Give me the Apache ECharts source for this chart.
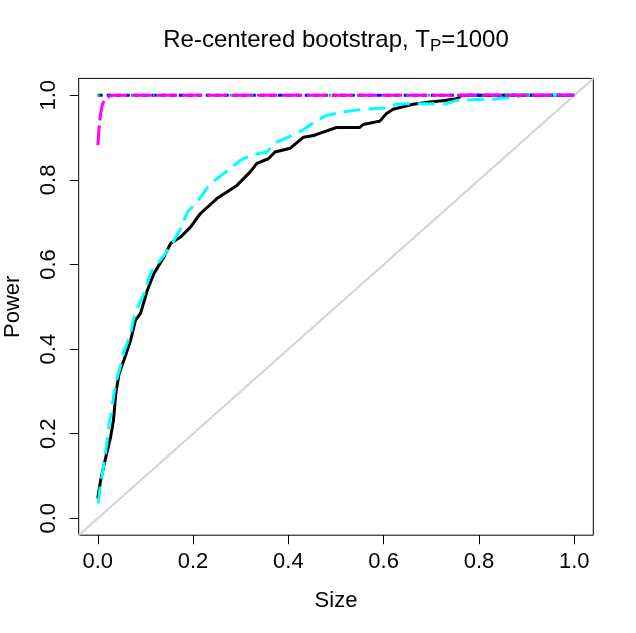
<!DOCTYPE html>
<html>
<head>
<meta charset="utf-8">
<script src="https://cdn.jsdelivr.net/npm/echarts@6/dist/echarts.min.js"></script>
<style>
html,body{margin:0;padding:0;background:#fff;}
#chart{width:636px;height:633px;}
</style>
</head>
<body>
<div id="chart"></div>
<script>
var tickValues = [0, 0.2, 0.4, 0.6, 0.8, 1.0];

var blackX = [0.000,0.006,0.017,0.027,0.033,0.038,0.045,0.055,0.069,0.079,0.090,0.104,0.118,0.139,0.153,0.174,0.195,0.215,0.250,0.292,0.320,0.334,0.358,0.372,0.404,0.432,0.453,0.473,0.501,0.550,0.557,0.592,0.606,0.620,0.648,0.662,0.697,0.728,0.753,0.759,0.764,1.000];
var blackY = [0.047,0.090,0.145,0.192,0.232,0.296,0.343,0.374,0.421,0.468,0.485,0.539,0.579,0.618,0.650,0.665,0.689,0.720,0.756,0.787,0.819,0.839,0.850,0.866,0.875,0.901,0.905,0.913,0.924,0.924,0.931,0.939,0.957,0.967,0.975,0.979,0.984,0.988,0.992,0.996,1.000,1.000];

var cyanX = [0.001,0.006,0.012,0.019,0.024,0.029,0.034,0.041,0.050,0.055,0.069,0.076,0.086,0.097,0.107,0.114,0.142,0.156,0.174,0.188,0.209,0.233,0.250,0.278,0.299,0.320,0.355,0.372,0.404,0.429,0.460,0.481,0.519,0.543,0.585,0.606,0.627,0.648,0.711,0.732,0.753,0.791,0.836,0.854,0.878,0.892,1.000];
var cyanY = [0.035,0.082,0.121,0.177,0.224,0.255,0.295,0.334,0.370,0.393,0.437,0.476,0.504,0.531,0.567,0.586,0.626,0.649,0.685,0.724,0.748,0.787,0.803,0.827,0.846,0.858,0.866,0.888,0.903,0.917,0.941,0.953,0.961,0.965,0.969,0.970,0.979,0.980,0.980,0.980,0.988,0.990,0.991,0.995,0.995,1.000,1.000];

var blueX = [0, 1];
var blueY = [1, 1];
var greenX = [0, 1];
var greenY = [1, 1];
var magentaX = [0, 0.003, 0.006, 0.010, 0.017, 0.024, 0.034, 1.0];
var magentaY = [0.882, 0.925, 0.957, 0.980, 0.992, 0.998, 1.0, 1.0];

var diagX = [-0.04, 1.04];
var diagY = [-0.04, 1.04];

function pairs(xs, ys) { return xs.map(function (x, i) { return [x, ys[i]]; }); }

var FONT = 'Liberation Sans';
var chart = echarts.init(document.getElementById('chart'));
chart.setOption({
  animation: false,
  backgroundColor: '#fff',
  title: {
    text: 'Re-centered bootstrap, T{sub|P}=1000',
    left: 331,
    top: 21,
    textAlign: 'center',
    textStyle: {
      fontFamily: FONT, fontSize: 24, fontWeight: 'normal', color: '#000', lineHeight: 29,
      rich: {
        sub: { fontFamily: FONT, fontSize: 17, color: '#000', lineHeight: 13, verticalAlign: 'bottom' }
      }
    }
  },
  grid: {
    left: 78.7, right: 42.7, top: 78.4, bottom: 97.8,
    outerBoundsMode: 'none', containLabel: false,
    show: true, borderColor: '#000', borderWidth: 1, backgroundColor: 'transparent'
  },
  xAxis: {
    type: 'value', min: -0.04, max: 1.04,
    name: 'Size', nameLocation: 'middle', nameGap: 55,
    nameTextStyle: { fontFamily: FONT, fontSize: 22, color: '#000' },
    axisLine: { show: false, onZero: false },
    splitLine: { show: false },
    axisTick: { show: true, customValues: tickValues, length: 9, lineStyle: { color: '#000', width: 1 } },
    axisLabel: { customValues: tickValues, margin: 16, fontFamily: FONT, fontSize: 22, color: '#000',
      formatter: function (v) { return v.toFixed(1); } }
  },
  yAxis: {
    type: 'value', min: -0.04, max: 1.04,
    name: 'Power', nameLocation: 'middle', nameGap: 55, nameRotate: 90,
    nameTextStyle: { fontFamily: FONT, fontSize: 22, color: '#000' },
    axisLine: { show: false, onZero: false },
    splitLine: { show: false },
    axisTick: { show: true, customValues: tickValues, length: 9, lineStyle: { color: '#000', width: 1 } },
    axisLabel: { customValues: tickValues, margin: 19, rotate: 90, fontFamily: FONT, fontSize: 22, color: '#000',
      formatter: function (v) { return v.toFixed(1); } }
  },
  series: [
    { name: 'diag', type: 'line', data: pairs(diagX, diagY), showSymbol: false, symbol: 'none',
      lineStyle: { color: '#D3D3D3', width: 2 }, z: 1 },
    { name: 'black', type: 'line', data: pairs(blackX, blackY), symbol: 'none',
      lineStyle: { color: '#000', width: 3 }, z: 2 },
    { name: 'cyan', type: 'line', data: pairs(cyanX, cyanY), symbol: 'none',
      lineStyle: { color: '#00FFFF', width: 3, type: [17, 8] }, z: 3 },
    { name: 'blue', type: 'line', data: pairs(blueX, blueY), symbol: 'none',
      lineStyle: { color: '#0000FF', width: 3, type: [5, 4] }, z: 4 },
    { name: 'green', type: 'line', data: pairs(greenX, greenY), symbol: 'none',
      lineStyle: { color: '#00CD00', width: 3, type: [2, 9] }, z: 5 },
    { name: 'magenta', type: 'line', data: pairs(magentaX, magentaY), symbol: 'none',
      lineStyle: { color: '#FF00FF', width: 3, type: [20, 5] }, z: 6 }
  ]
});
</script>
</body>
</html>
